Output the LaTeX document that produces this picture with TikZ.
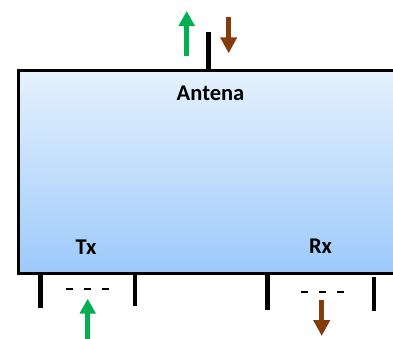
\documentclass[tikz,border=0pt]{standalone}
\usepackage{fontspec}
\setmainfont{Carlito}
\usetikzlibrary{arrows.meta}
\definecolor{grn}{HTML}{00B050}
\definecolor{brn}{HTML}{843C0C}
\definecolor{btop}{HTML}{E6F1FD}
\definecolor{bbot}{HTML}{9CCAFA}
\tikzset{
  leg/.style={line width=4.5pt},
  garrow/.style={grn, line width=5.5pt, -{Triangle[width=15.5pt,length=15pt]}},
  barrow/.style={brn, line width=5.5pt, -{Triangle[width=16pt,length=16pt]}},
  dashline/.style={line width=1.8pt, dash pattern=on 7pt off 11pt},
  lbl/.style={font=\bfseries\fontsize{22.5}{26}\selectfont, inner sep=0pt},
  bigbox/.style={draw, line width=3pt, top color=btop, bottom color=bbot, inner sep=0pt, anchor=north west}
}
\begin{document}
\begin{tikzpicture}[x=1pt,y=-1pt]
\useasboundingbox (0,0) rectangle (393,338);
\clip (0,0) rectangle (393,338);
\node (box) [bigbox, minimum width=390pt, minimum height=203pt] at (16.5,68.7) {};
\node (ant) [lbl] at (210.5,93) {Antena};
\node (tx) [lbl] at (86,247) {Tx};
\node (rx) [lbl] at (320.5,246.5) {Rx};
% antenna stick
\coordinate (s1) at (208.7,68.7);
\coordinate (s2) at (208.7,31.7);
\draw[leg] (s1) -- (s2);
% top arrows
\coordinate (ga1) at (186.7,55.7);
\coordinate (ga2) at (186.7,11);
\draw[garrow] (ga1) -- (ga2);
\coordinate (ba1) at (228.7,17.3);
\coordinate (ba2) at (228.7,53.3);
\draw[barrow] (ba1) -- (ba2);
% Tx legs
\coordinate (t1a) at (40.7,271.7);
\coordinate (t1b) at (40.7,308);
\coordinate (t2a) at (135,271.7);
\coordinate (t2b) at (135,305.7);
\draw[leg] (t1a) -- (t1b);
\draw[leg] (t2a) -- (t2b);
\coordinate (td1) at (66,289.3);
\coordinate (td2) at (109,289.3);
\draw[dashline] (td1) -- (td2);
% Rx legs
\coordinate (r1a) at (267.7,271.7);
\coordinate (r1b) at (267.7,309.7);
\coordinate (r2a) at (374,276.7);
\coordinate (r2b) at (374,310.7);
\draw[leg] (r1a) -- (r1b);
\draw[leg] (r2a) -- (r2b);
\coordinate (rd1) at (301,292.3);
\coordinate (rd2) at (344,292.3);
\draw[dashline] (rd1) -- (rd2);
% bottom arrows
\coordinate (gb1) at (87.7,345);
\coordinate (gb2) at (87.7,298.7);
\draw[garrow] (gb1) -- (gb2);
\coordinate (bb1) at (321.7,300);
\coordinate (bb2) at (321.7,336);
\draw[barrow] (bb1) -- (bb2);
\end{tikzpicture}
\end{document}
